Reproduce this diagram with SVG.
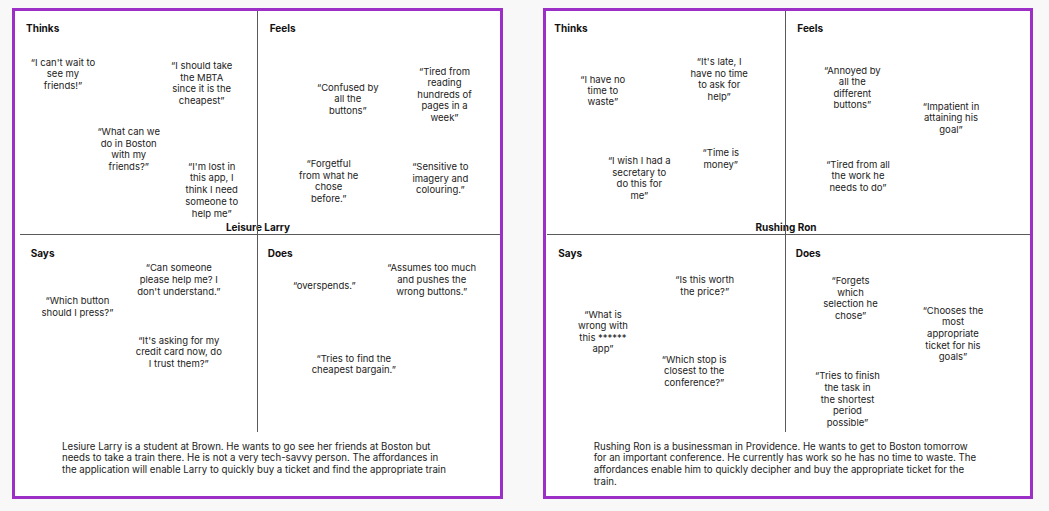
<svg xmlns="http://www.w3.org/2000/svg" width="1049" height="511" viewBox="0 0 1049 511">
<style>
.bg{fill:#f8f8f8}
.panel{fill:#ffffff;stroke:#9b2fc6;stroke-width:3}
.div{stroke:#5a5a5a;stroke-width:1;fill:none}
.h{font-family:Inter,"Liberation Sans",sans-serif;font-size:10px;font-weight:700;fill:#111}
.q{font-family:Inter,"Liberation Sans",sans-serif;font-size:9.5px;fill:#222;text-anchor:middle}
.d{font-family:Inter,"Liberation Sans",sans-serif;font-size:9.7px;fill:#222}
.t{font-family:Inter,"Liberation Sans",sans-serif;font-size:10px;font-weight:700;fill:#111;text-anchor:middle}
</style>
<rect class="bg" x="0" y="0" width="1049" height="511"/>

<g id="larry">
<rect class="panel" x="13.5" y="9.5" width="488" height="488"/>
<text class="t" x="258" y="231">Leisure Larry</text>
</g>
<g id="ron">
<rect class="panel" x="544.5" y="9.5" width="487" height="488"/>
<text class="t" x="786" y="231">Rushing Ron</text>
</g>

<g id="connectors">
<line class="div" x1="257.5" y1="11" x2="257.5" y2="432"/>
<line class="div" x1="20" y1="234.5" x2="500" y2="234.5"/>
<line class="div" x1="785.5" y1="11" x2="785.5" y2="432"/>
<line class="div" x1="547" y1="234.5" x2="1030" y2="234.5"/>
</g>

<g id="larry-thinks">
<text class="h" x="26" y="31.7">Thinks</text>
<text class="q" y="65.5"><tspan x="63">“I can't wait to</tspan><tspan x="63" dy="11.6">see my</tspan><tspan x="63" dy="11.6">friends!”</tspan></text>
<text class="q" y="69"><tspan x="201.7">“I should take</tspan><tspan x="201.7" dy="11.7">the MBTA</tspan><tspan x="201.7" dy="11.7">since it is the</tspan><tspan x="201.7" dy="11.7">cheapest”</tspan></text>
<text class="q" y="135"><tspan x="128.7">“What can we</tspan><tspan x="128.7" dy="11.7">do in Boston</tspan><tspan x="128.7" dy="11.7">with my</tspan><tspan x="128.7" dy="11.7">friends?”</tspan></text>
<text class="q" y="169.5"><tspan x="211.7">“I'm lost in</tspan><tspan x="211.7" dy="11.8">this app, I</tspan><tspan x="211.7" dy="11.8">think I need</tspan><tspan x="211.7" dy="11.8">someone to</tspan><tspan x="211.7" dy="11.8">help me”</tspan></text>
</g>

<g id="larry-feels">
<text class="h" x="269.7" y="31.7">Feels</text>
<text class="q" y="91"><tspan x="347.8">“Confused by</tspan><tspan x="347.8" dy="11.3">all the</tspan><tspan x="347.8" dy="11.3">buttons”</tspan></text>
<text class="q" y="74.5"><tspan x="444.5">“Tired from</tspan><tspan x="444.5" dy="11.6">reading</tspan><tspan x="444.5" dy="11.6">hundreds of</tspan><tspan x="444.5" dy="11.6">pages in a</tspan><tspan x="444.5" dy="11.6">week”</tspan></text>
<text class="q" y="167"><tspan x="328.7">“Forgetful</tspan><tspan x="328.7" dy="11.6">from what he</tspan><tspan x="328.7" dy="11.6">chose</tspan><tspan x="328.7" dy="11.6">before.”</tspan></text>
<text class="q" y="170"><tspan x="440.3">“Sensitive to</tspan><tspan x="440.3" dy="11.7">imagery and</tspan><tspan x="440.3" dy="11.7">colouring.”</tspan></text>
</g>

<g id="larry-says">
<text class="h" x="30.7" y="256.5">Says</text>
<text class="q" y="304"><tspan x="77.5">“Which button</tspan><tspan x="77.5" dy="11.7">should I press?”</tspan></text>
<text class="q" y="271"><tspan x="178.8">“Can someone</tspan><tspan x="178.8" dy="11.8">please help me? I</tspan><tspan x="178.8" dy="11.8">don't understand.”</tspan></text>
<text class="q" y="343.5"><tspan x="178.8">“It's asking for my</tspan><tspan x="178.8" dy="11.6">credit card now, do</tspan><tspan x="178.8" dy="11.6">I trust them?”</tspan></text>
</g>

<g id="larry-does">
<text class="h" x="267.7" y="256.5">Does</text>
<text class="q" x="324.3" y="288.5">“overspends.”</text>
<text class="q" y="271"><tspan x="431.7">“Assumes too much</tspan><tspan x="431.7" dy="11.8">and pushes the</tspan><tspan x="431.7" dy="11.8">wrong buttons.”</tspan></text>
<text class="q" y="361.7"><tspan x="353.8">“Tries to find the</tspan><tspan x="353.8" dy="11.7">cheapest bargain.”</tspan></text>
</g>

<g id="larry-summary">
<text class="d" y="449.5"><tspan x="62">Lesiure Larry is a student at Brown. He wants to go see her friends at Boston but</tspan><tspan x="62" dy="11.7">needs to take a train there. He is not a very tech-savvy person. The affordances in</tspan><tspan x="62" dy="11.7">the application will enable Larry to quickly buy a ticket and find the appropriate train</tspan></text>
</g>

<g id="ron-thinks">
<text class="h" x="554.3" y="31.7">Thinks</text>
<text class="q" y="82.5"><tspan x="602.8">“I have no</tspan><tspan x="602.8" dy="11.4">time to</tspan><tspan x="602.8" dy="11.4">waste”</tspan></text>
<text class="q" y="65"><tspan x="719.2">“It's late, I</tspan><tspan x="719.2" dy="11.7">have no time</tspan><tspan x="719.2" dy="11.7">to ask for</tspan><tspan x="719.2" dy="11.7">help”</tspan></text>
<text class="q" y="164"><tspan x="639.3">“I wish I had a</tspan><tspan x="639.3" dy="11.5">secretary to</tspan><tspan x="639.3" dy="11.5">do this for</tspan><tspan x="639.3" dy="11.5">me”</tspan></text>
<text class="q" y="156"><tspan x="720.8">“Time is</tspan><tspan x="720.8" dy="11.7">money”</tspan></text>
</g>

<g id="ron-feels">
<text class="h" x="797.3" y="31.7">Feels</text>
<text class="q" y="73.5"><tspan x="852.3">“Annoyed by</tspan><tspan x="852.3" dy="11.5">all the</tspan><tspan x="852.3" dy="11.5">different</tspan><tspan x="852.3" dy="11.5">buttons”</tspan></text>
<text class="q" y="109.5"><tspan x="951">“Impatient in</tspan><tspan x="951" dy="11.5">attaining his</tspan><tspan x="951" dy="11.5">goal”</tspan></text>
<text class="q" y="167.5"><tspan x="858">“Tired from all</tspan><tspan x="858" dy="11.7">the work he</tspan><tspan x="858" dy="11.7">needs to do”</tspan></text>
</g>

<g id="ron-says">
<text class="h" x="558.3" y="256.5">Says</text>
<text class="q" y="282.7"><tspan x="704.7">“Is this worth</tspan><tspan x="704.7" dy="11.8">the price?”</tspan></text>
<text class="q" y="317.5"><tspan x="603">“What is</tspan><tspan x="603" dy="11.5">wrong with</tspan><tspan x="603" dy="11.5">this ******</tspan><tspan x="603" dy="11.5">app”</tspan></text>
<text class="q" y="362.7"><tspan x="694.2">“Which stop is</tspan><tspan x="694.2" dy="11.7">closest to the</tspan><tspan x="694.2" dy="11.7">conference?”</tspan></text>
</g>

<g id="ron-does">
<text class="h" x="795.7" y="256.5">Does</text>
<text class="q" y="284"><tspan x="850.5">“Forgets</tspan><tspan x="850.5" dy="11.5">which</tspan><tspan x="850.5" dy="11.5">selection he</tspan><tspan x="850.5" dy="11.5">chose”</tspan></text>
<text class="q" y="313.5"><tspan x="953">“Chooses the</tspan><tspan x="953" dy="11.7">most</tspan><tspan x="953" dy="11.7">appropriate</tspan><tspan x="953" dy="11.7">ticket for his</tspan><tspan x="953" dy="11.7">goals”</tspan></text>
<text class="q" y="379"><tspan x="847.5">“Tries to finish</tspan><tspan x="847.5" dy="11.8">the task in</tspan><tspan x="847.5" dy="11.8">the shortest</tspan><tspan x="847.5" dy="11.8">period</tspan><tspan x="847.5" dy="11.8">possible”</tspan></text>
</g>

<g id="ron-summary">
<text class="d" y="449.5"><tspan x="593.7">Rushing Ron is a businessman in Providence. He wants to get to Boston tomorrow</tspan><tspan x="593.7" dy="11.8">for an important conference. He currently has work so he has no time to waste. The</tspan><tspan x="593.7" dy="11.8">affordances enable him to quickly decipher and buy the appropriate ticket for the</tspan><tspan x="593.7" dy="11.8">train.</tspan></text>
</g>
</svg>
